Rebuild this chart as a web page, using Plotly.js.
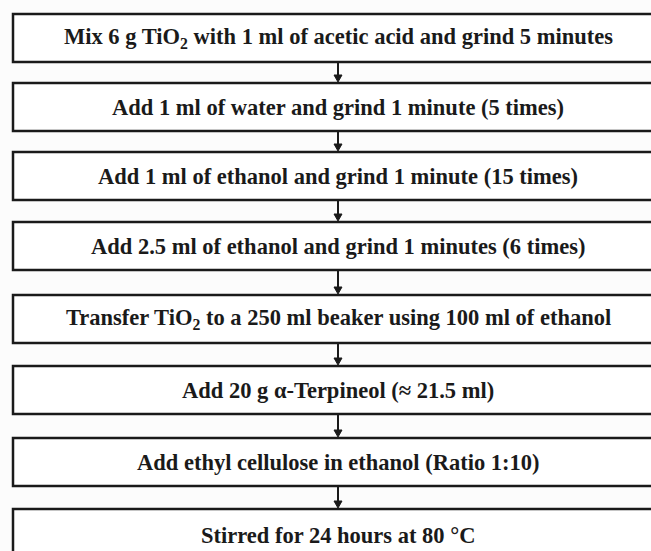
<!DOCTYPE html>
<html><head><meta charset="utf-8">
<script src="https://cdn.plot.ly/plotly-3.0.1.min.js"></script>
<style>html,body{margin:0;padding:0;background:#fcfcfc;}</style>
</head><body>
<div id="chart" style="width:651px;height:551px;"></div>
<script>
const steps = [
  "Mix 6 g TiO<sub>2</sub> with 1 ml of acetic acid and grind 5 minutes",
  "Add 1 ml of water and grind 1 minute (5 times)",
  "Add 1 ml of ethanol and grind 1 minute (15 times)",
  "Add 2.5 ml of ethanol and grind 1 minutes (6 times)",
  "Transfer TiO<sub>2</sub> to a 250 ml beaker using 100 ml of ethanol",
  "Add 20 g α-Terpineol (≈ 21.5 ml)",
  "Add ethyl cellulose in ethanol (Ratio 1:10)",
  "Stirred for 24 hours at 80 °C"
];
const boxTops = [14, 83, 152, 222, 295, 366, 438, 509];
const boxHeight = 48;
const boxLeft = 13, boxRight = 700, centerX = 338;

const shapes = [];
const annotations = [];
steps.forEach((s, i) => {
  const y0 = boxTops[i], y1 = y0 + boxHeight;
  shapes.push({type:'rect', xref:'x', yref:'y', x0:boxLeft, x1:boxRight, y0:y0, y1:y1,
    line:{color:'#1a1a1a', width:2.5}, fillcolor:'#ffffff', layer:'below'});
  annotations.push({x:centerX, y:y0 + (i === 7 ? 26 : boxHeight/2), xref:'x', yref:'y', text:'<b>'+s+'</b>',
    showarrow:false, font:{family:'Liberation Serif, Times New Roman, serif', size:22.5, color:'#1a1a1a'}});
  if (i < steps.length - 1) {
    const nt = boxTops[i+1];
    shapes.push({type:'line', xref:'x', yref:'y', x0:centerX, x1:centerX, y0:y1, y1:nt-6,
      line:{color:'#1a1a1a', width:2}});
    shapes.push({type:'path', xref:'x', yref:'y',
      path:`M ${centerX-4} ${nt-8} L ${centerX+4} ${nt-8} L ${centerX} ${nt-1} Z`,
      fillcolor:'#1a1a1a', line:{color:'#1a1a1a', width:1}});
  }
});

Plotly.newPlot('chart', [], {
  width:651, height:551,
  margin:{l:0, r:0, t:0, b:0},
  paper_bgcolor:'#fcfcfc', plot_bgcolor:'#fcfcfc',
  xaxis:{range:[0,651], visible:false, fixedrange:true},
  yaxis:{range:[551,0], visible:false, fixedrange:true},
  showlegend:false,
  shapes:shapes, annotations:annotations
}, {staticPlot:true});
</script>
</body></html>
